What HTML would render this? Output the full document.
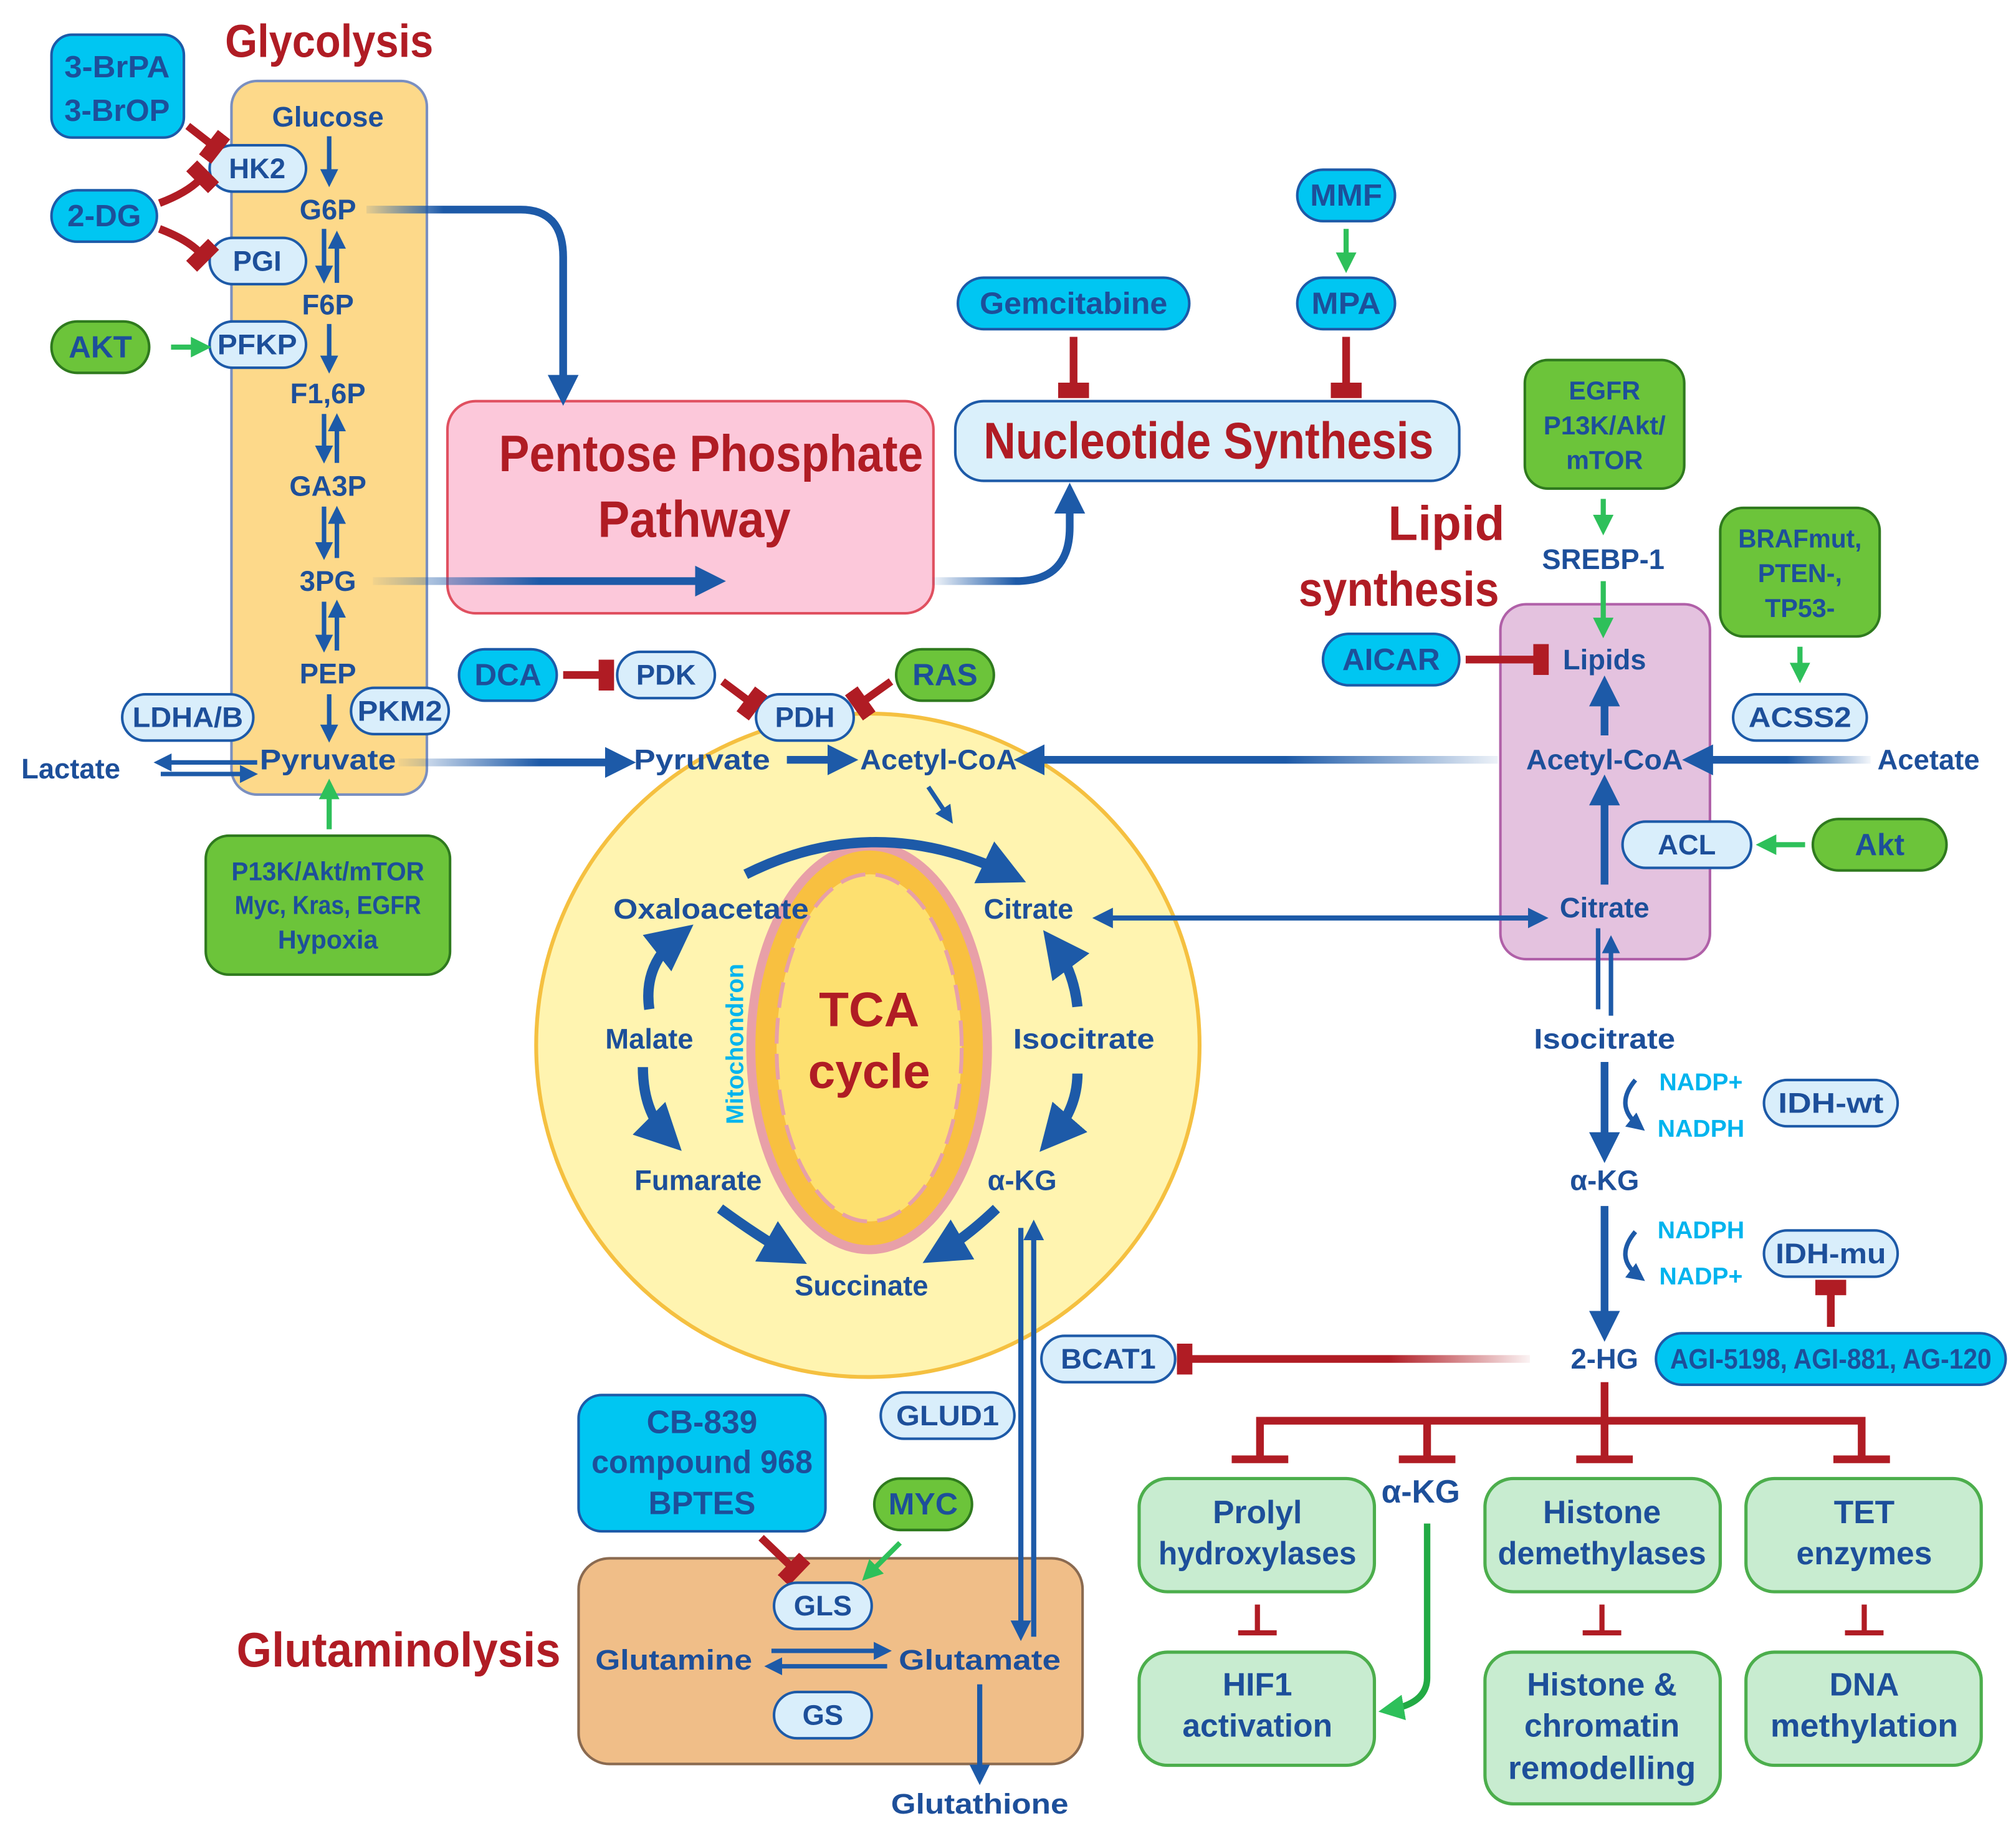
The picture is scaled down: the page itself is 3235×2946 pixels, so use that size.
<!DOCTYPE html>
<html><head><meta charset="utf-8">
<style>
html,body{margin:0;padding:0;background:#fff;}
svg{display:block;}
text{font-family:"Liberation Sans Narrow","Liberation Sans",sans-serif;font-weight:bold;text-anchor:middle;dominant-baseline:central;}
.m{fill:#1d4f9a;font-size:22px;}
.t{fill:#b01c24;}
.pill{fill:#d9eefb;stroke:#1d5aa8;stroke-width:2;}
.cy{fill:#00c6f2;stroke:#1d5aa8;stroke-width:2;}
.gr{fill:#6cc43a;stroke:#2f7a1e;stroke-width:2;}
.lg{fill:#c8ecd0;stroke:#4cae4c;stroke-width:2.5;}
.b{stroke:#1d5aa8;stroke-width:6;fill:none;}
.bt{stroke:#1d5aa8;stroke-width:3.5;fill:none;}
.r{stroke:#b01c24;stroke-width:6;fill:none;}
.g{stroke:#2ec05a;stroke-width:4;fill:none;}
.n{fill:#00b4ee;font-size:19px;}
</style></head><body>
<svg width="3235" height="2946" viewBox="0 0 1568 1428" xmlns="http://www.w3.org/2000/svg">
<defs>
<marker id="ab" viewBox="0 0 10 10" refX="6" refY="5" markerWidth="4" markerHeight="4" orient="auto-start-reverse"><path d="M0,0L10,5L0,10z" fill="#1d5aa8"/></marker>
<marker id="abs" viewBox="0 0 10 10" refX="6" refY="5" markerWidth="4.5" markerHeight="4.5" orient="auto"><path d="M0,0L10,5L0,10z" fill="#1d5aa8"/></marker>
<marker id="ag" viewBox="0 0 10 10" refX="6" refY="5" markerWidth="4" markerHeight="4" orient="auto"><path d="M0,0L10,5L0,10z" fill="#2ec05a"/></marker>
<marker id="tr" viewBox="0 0 10 10" refX="5" refY="5" markerWidth="4" markerHeight="4" orient="auto"><path d="M4,-1L9,-1L9,11L4,11z" fill="#b01c24"/></marker>
<linearGradient id="g1" gradientUnits="userSpaceOnUse" x1="285" y1="0" x2="345" y2="0"><stop offset="0" stop-color="#1d5aa8" stop-opacity="0.1"/><stop offset="1" stop-color="#1d5aa8"/></linearGradient>
<linearGradient id="g2" gradientUnits="userSpaceOnUse" x1="290" y1="0" x2="420" y2="0"><stop offset="0" stop-color="#1d5aa8" stop-opacity="0.05"/><stop offset="1" stop-color="#1d5aa8"/></linearGradient>
<linearGradient id="g3" gradientUnits="userSpaceOnUse" x1="725" y1="0" x2="790" y2="0"><stop offset="0" stop-color="#1d5aa8" stop-opacity="0.05"/><stop offset="1" stop-color="#1d5aa8"/></linearGradient>
<linearGradient id="g4" gradientUnits="userSpaceOnUse" x1="310" y1="0" x2="420" y2="0"><stop offset="0" stop-color="#1d5aa8" stop-opacity="0.05"/><stop offset="1" stop-color="#1d5aa8"/></linearGradient>
<linearGradient id="g5" gradientUnits="userSpaceOnUse" x1="1455" y1="0" x2="1390" y2="0"><stop offset="0" stop-color="#1d5aa8" stop-opacity="0.05"/><stop offset="1" stop-color="#1d5aa8"/></linearGradient>
<linearGradient id="g6" gradientUnits="userSpaceOnUse" x1="1170" y1="0" x2="1000" y2="0"><stop offset="0" stop-color="#1d5aa8" stop-opacity="0.05"/><stop offset="1" stop-color="#1d5aa8"/></linearGradient>
<linearGradient id="g7" gradientUnits="userSpaceOnUse" x1="1190" y1="0" x2="1080" y2="0"><stop offset="0" stop-color="#b01c24" stop-opacity="0.05"/><stop offset="1" stop-color="#b01c24"/></linearGradient>
</defs>

<!-- TCA circle first -->
<circle cx="675" cy="813" r="258" fill="#fff4b0" stroke="#f5c040" stroke-width="3"/>

<!-- Glycolysis -->
<text x="256" y="32" class="t" style="font-size:36px" textLength="162" lengthAdjust="spacingAndGlyphs">Glycolysis</text>
<rect x="180" y="63" width="152" height="555" rx="20" fill="#fdd98a" stroke="#7a8fc0" stroke-width="2"/>
<text x="255" y="91" class="m">Glucose</text>
<text x="255" y="163" class="m">G6P</text>
<text x="255" y="237" class="m">F6P</text>
<text x="255" y="306" class="m">F1,6P</text>
<text x="255" y="378" class="m">GA3P</text>
<text x="255" y="452" class="m">3PG</text>
<text x="255" y="524" class="m">PEP</text>
<text x="255" y="591" class="m" textLength="106" lengthAdjust="spacingAndGlyphs">Pyruvate</text>
<g class="bt">
<path d="M256,106V140" marker-end="url(#ab)"/>
<path d="M252,178V215" marker-end="url(#ab)"/><path d="M262,220V185" marker-end="url(#ab)"/>
<path d="M256,252V285" marker-end="url(#ab)"/>
<path d="M252,322V355" marker-end="url(#ab)"/><path d="M262,360V327" marker-end="url(#ab)"/>
<path d="M252,394V430" marker-end="url(#ab)"/><path d="M262,434V399" marker-end="url(#ab)"/>
<path d="M252,468V502" marker-end="url(#ab)"/><path d="M262,506V472" marker-end="url(#ab)"/>
<path d="M256,540V572" marker-end="url(#ab)"/>
<path d="M200,593H125" marker-end="url(#ab)"/><path d="M125,602H195" marker-end="url(#ab)"/>
</g>
<rect x="163" y="113" width="75" height="36" rx="18" class="pill"/><text x="200" y="131" class="m">HK2</text>
<rect x="163" y="185" width="75" height="36" rx="18" class="pill"/><text x="200" y="203" class="m">PGI</text>
<rect x="163" y="250" width="75" height="36" rx="18" class="pill"/><text x="200" y="268" class="m" textLength="62" lengthAdjust="spacingAndGlyphs">PFKP</text>
<rect x="95" y="540" width="102" height="36" rx="18" class="pill"/><text x="146" y="558" class="m" textLength="86" lengthAdjust="spacingAndGlyphs">LDHA/B</text>
<rect x="273" y="535" width="76" height="36" rx="18" class="pill"/><text x="311" y="553" class="m" textLength="66" lengthAdjust="spacingAndGlyphs">PKM2</text>
<text x="55" y="598" class="m">Lactate</text>
<rect x="40" y="27" width="103" height="80" rx="16" class="cy"/><text x="91" y="52" class="m" style="font-size:24px" textLength="82" lengthAdjust="spacingAndGlyphs">3-BrPA</text><text x="91" y="86" class="m" style="font-size:24px" textLength="82" lengthAdjust="spacingAndGlyphs">3-BrOP</text>
<rect x="40" y="148" width="82" height="40" rx="20" class="cy"/><text x="81" y="168" class="m" style="font-size:24px">2-DG</text>
<rect x="40" y="250" width="76" height="40" rx="20" class="gr"/><text x="78" y="270" class="m" style="font-size:24px">AKT</text>
<path d="M146,98L164,112" class="r" marker-end="url(#tr)"/>
<path d="M124,158Q145,150 155,140" class="r" marker-end="url(#tr)"/>
<path d="M124,178Q145,186 155,196" class="r" marker-end="url(#tr)"/>
<path d="M133,270H158" class="g" marker-end="url(#ag)"/>
<rect x="160" y="650" width="190" height="108" rx="18" class="gr"/>
<text x="255" y="678" class="m" style="font-size:20px" textLength="150" lengthAdjust="spacingAndGlyphs">P13K/Akt/mTOR</text>
<text x="255" y="704" class="m" style="font-size:20px" textLength="145" lengthAdjust="spacingAndGlyphs">Myc, Kras, EGFR</text>
<text x="255" y="731" class="m" style="font-size:20px">Hypoxia</text>
<path d="M256,645V612" class="g" marker-end="url(#ag)"/>

<!-- PPP -->
<rect x="348" y="312" width="378" height="165" rx="22" fill="#fcc8da" stroke="#e05060" stroke-width="2"/>
<text x="553" y="353" class="t" style="font-size:40px" textLength="330" lengthAdjust="spacingAndGlyphs">Pentose Phosphate</text>
<text x="540" y="404" class="t" style="font-size:40px" textLength="150" lengthAdjust="spacingAndGlyphs">Pathway</text>
<path d="M285,163H405Q438,163 438,200V306" class="b" style="stroke:url(#g1)" marker-end="url(#ab)"/>
<path d="M290,452H555" class="b" style="stroke:url(#g2)" marker-end="url(#ab)"/>
<path d="M725,452H790Q832,452 832,410V385" class="b" style="stroke:url(#g3)" marker-end="url(#ab)"/>

<!-- Nucleotide -->
<rect x="743" y="312" width="392" height="62" rx="22" fill="#daf0fb" stroke="#1d5aa8" stroke-width="2"/>
<text x="940" y="343" class="t" style="font-size:40px" textLength="350" lengthAdjust="spacingAndGlyphs">Nucleotide Synthesis</text>
<rect x="745" y="216" width="180" height="40" rx="20" class="cy"/><text x="835" y="236" class="m" style="font-size:24px" textLength="146" lengthAdjust="spacingAndGlyphs">Gemcitabine</text>
<rect x="1009" y="132" width="76" height="40" rx="20" class="cy"/><text x="1047" y="152" class="m" style="font-size:24px" textLength="56" lengthAdjust="spacingAndGlyphs">MMF</text>
<rect x="1009" y="216" width="76" height="40" rx="20" class="cy"/><text x="1047" y="236" class="m" style="font-size:24px" textLength="54" lengthAdjust="spacingAndGlyphs">MPA</text>
<path d="M835,262V300" class="r" marker-end="url(#tr)"/>
<path d="M1047,262V300" class="r" marker-end="url(#tr)"/>
<path d="M1047,178V206" class="g" marker-end="url(#ag)"/>

<!-- Lipid -->
<text x="1125" y="407" class="t" style="font-size:38px">Lipid</text>
<text x="1088" y="458" class="t" style="font-size:38px" textLength="156" lengthAdjust="spacingAndGlyphs">synthesis</text>
<rect x="1186" y="280" width="124" height="100" rx="18" class="gr"/>
<text x="1248" y="304" class="m" style="font-size:20px">EGFR</text><text x="1248" y="331" class="m" style="font-size:20px" textLength="95" lengthAdjust="spacingAndGlyphs">P13K/Akt/</text><text x="1248" y="358" class="m" style="font-size:20px">mTOR</text>
<path d="M1247,388V410" class="g" marker-end="url(#ag)"/>
<text x="1247" y="435" class="m">SREBP-1</text>
<rect x="1338" y="395" width="124" height="100" rx="18" class="gr"/>
<text x="1400" y="419" class="m" style="font-size:20px" textLength="96" lengthAdjust="spacingAndGlyphs">BRAFmut,</text><text x="1400" y="446" class="m" style="font-size:20px">PTEN-,</text><text x="1400" y="473" class="m" style="font-size:20px">TP53-</text>
<rect x="1167" y="470" width="163" height="276" rx="20" fill="#e4c2df" stroke="#b060a8" stroke-width="2"/>
<path d="M1247,452V490" class="g" marker-end="url(#ag)"/>
<path d="M1400,503V525" class="g" marker-end="url(#ag)"/>
<rect x="1029" y="493" width="106" height="40" rx="20" class="cy"/><text x="1082" y="513" class="m" style="font-size:24px" textLength="76" lengthAdjust="spacingAndGlyphs">AICAR</text>
<path d="M1140,513H1195" class="r" marker-end="url(#tr)"/>
<text x="1248" y="513" class="m">Lipids</text>
<rect x="1348" y="540" width="104" height="36" rx="18" class="pill"/><text x="1400" y="558" class="m" textLength="80" lengthAdjust="spacingAndGlyphs">ACSS2</text>
<text x="1248" y="591" class="m" textLength="122" lengthAdjust="spacingAndGlyphs">Acetyl-CoA</text>
<text x="1500" y="591" class="m">Acetate</text>
<path d="M1248,572V535" class="b" marker-end="url(#ab)"/>
<path d="M1455,591H1318" class="b" style="stroke:url(#g5)" marker-end="url(#ab)"/>
<path d="M1248,688V612" class="b" marker-end="url(#ab)"/>
<rect x="1262" y="639" width="100" height="36" rx="18" class="pill"/><text x="1312" y="657" class="m">ACL</text>
<rect x="1410" y="637" width="104" height="40" rx="20" class="gr"/><text x="1462" y="657" class="m" style="font-size:24px">Akt</text>
<path d="M1404,657H1372" class="g" marker-end="url(#ag)"/>
<text x="1248" y="706" class="m">Citrate</text>
<path d="M1165,591H798" class="b" style="stroke:url(#g6)" marker-end="url(#ab)"/>

<!-- PDH etc -->
<rect x="357" y="505" width="76" height="40" rx="20" class="cy"/><text x="395" y="525" class="m" style="font-size:24px">DCA</text>
<rect x="480" y="507" width="76" height="36" rx="18" class="pill"/><text x="518" y="525" class="m">PDK</text>
<rect x="588" y="540" width="76" height="36" rx="18" class="pill"/><text x="626" y="558" class="m">PDH</text>
<rect x="697" y="505" width="76" height="40" rx="20" class="gr"/><text x="735" y="525" class="m" style="font-size:24px">RAS</text>
<path d="M438,525H468" class="r" marker-end="url(#tr)"/>
<path d="M562,530L582,545" class="r" marker-end="url(#tr)"/>
<path d="M693,530L672,545" class="r" marker-end="url(#tr)"/>
<path d="M310,593H485" class="b" style="stroke:url(#g4)" marker-end="url(#ab)"/>
<text x="546" y="591" class="m" textLength="106" lengthAdjust="spacingAndGlyphs">Pyruvate</text>
<path d="M612,591H658" class="b" marker-end="url(#ab)"/>
<text x="730" y="591" class="m" textLength="122" lengthAdjust="spacingAndGlyphs">Acetyl-CoA</text>

<!-- TCA -->
<ellipse cx="676" cy="815" rx="92" ry="157" fill="#f8c040" stroke="#e8a0a8" stroke-width="7"/>
<ellipse cx="676" cy="815" rx="72" ry="135" fill="#fde070" stroke="#e7a0a8" stroke-width="3" stroke-dasharray="20 8"/>
<text x="676" y="785" class="t" style="font-size:38px">TCA</text>
<text x="676" y="833" class="t" style="font-size:38px">cycle</text>
<text x="572" y="812" class="n" transform="rotate(-90 572 812)" textLength="125" lengthAdjust="spacingAndGlyphs">Mitochondron</text>
<text x="553" y="707" class="m" textLength="152" lengthAdjust="spacingAndGlyphs">Oxaloacetate</text>
<text x="800" y="707" class="m">Citrate</text>
<text x="505" y="808" class="m">Malate</text>
<text x="843" y="808" class="m" textLength="110" lengthAdjust="spacingAndGlyphs">Isocitrate</text>
<text x="543" y="918" class="m">Fumarate</text>
<text x="795" y="918" class="m">α-KG</text>
<text x="670" y="1000" class="m">Succinate</text>
<g class="b" style="stroke-width:8">
<path d="M580,680Q680,630 785,680" marker-end="url(#abs)"/>
<path d="M838,783Q835,755 820,735" marker-end="url(#abs)"/>
<path d="M838,835Q838,862 818,885" marker-end="url(#abs)"/>
<path d="M505,785Q500,750 528,728" marker-end="url(#abs)"/>
<path d="M500,830Q500,865 520,885" marker-end="url(#abs)"/>
<path d="M560,940Q590,962 615,976" marker-end="url(#abs)"/>
<path d="M775,940Q752,962 730,975" marker-end="url(#abs)"/>
</g>
<path d="M722,612L738,636" class="bt" marker-end="url(#ab)"/>
<path d="M856,714H1198" class="bt" style="stroke-width:4" marker-start="url(#ab)" marker-end="url(#ab)"/>

<!-- IDH column -->
<path d="M1243,722V785M1253,790V733" class="bt" marker-end="url(#ab)"/>
<text x="1248" y="808" class="m" textLength="110" lengthAdjust="spacingAndGlyphs">Isocitrate</text>
<path d="M1248,826V895" class="b" marker-end="url(#ab)"/>
<path d="M1272,840Q1255,860 1275,876" class="bt" marker-end="url(#ab)"/>
<text x="1323" y="842" class="n">NADP+</text><text x="1323" y="878" class="n">NADPH</text>
<rect x="1372" y="840" width="104" height="36" rx="18" class="pill"/><text x="1424" y="858" class="m" textLength="82" lengthAdjust="spacingAndGlyphs">IDH-wt</text>
<text x="1248" y="918" class="m">α-KG</text>
<path d="M1248,938V1034" class="b" marker-end="url(#ab)"/>
<path d="M1272,958Q1255,978 1275,993" class="bt" marker-end="url(#ab)"/>
<text x="1323" y="957" class="n">NADPH</text><text x="1323" y="993" class="n">NADP+</text>
<rect x="1372" y="957" width="104" height="36" rx="18" class="pill"/><text x="1424" y="975" class="m" textLength="86" lengthAdjust="spacingAndGlyphs">IDH-mu</text>
<path d="M1424,1032V1005" class="r" marker-end="url(#tr)"/>
<rect x="1288" y="1037" width="272" height="40" rx="20" class="cy"/><text x="1424" y="1057" class="m" textLength="250" lengthAdjust="spacingAndGlyphs">AGI-5198, AGI-881, AG-120</text>
<text x="1248" y="1057" class="m">2-HG</text>
<rect x="810" y="1039" width="104" height="36" rx="18" class="pill"/><text x="862" y="1057" class="m" textLength="74" lengthAdjust="spacingAndGlyphs">BCAT1</text>
<path d="M1190,1057H925" class="r" style="stroke:url(#g7)" marker-end="url(#tr)"/>

<!-- 2-HG tree -->
<g class="r">
<path d="M1248,1075V1135"/>
<path d="M980,1135V1105H1448V1135"/>
<path d="M1110,1105V1135"/>
<path d="M958,1135H1002M1088,1135H1132M1226,1135H1270M1426,1135H1470"/>
</g>
<rect x="886" y="1150" width="183" height="88" rx="22" class="lg"/><text x="978" y="1176" class="m" style="font-size:25px">Prolyl</text><text x="978" y="1208" class="m" style="font-size:25px" textLength="154" lengthAdjust="spacingAndGlyphs">hydroxylases</text>
<text x="1105" y="1160" class="m" style="font-size:25px">α-KG</text>
<rect x="1155" y="1150" width="183" height="88" rx="22" class="lg"/><text x="1246" y="1176" class="m" style="font-size:25px">Histone</text><text x="1246" y="1208" class="m" style="font-size:25px" textLength="162" lengthAdjust="spacingAndGlyphs">demethylases</text>
<rect x="1358" y="1150" width="183" height="88" rx="22" class="lg"/><text x="1450" y="1176" class="m" style="font-size:25px">TET</text><text x="1450" y="1208" class="m" style="font-size:25px">enzymes</text>
<g class="r" style="stroke-width:4"><path d="M978,1248V1270M963,1270H993M1246,1248V1270M1231,1270H1261M1450,1248V1270M1435,1270H1465"/></g>
<rect x="886" y="1285" width="183" height="88" rx="22" class="lg"/><text x="978" y="1310" class="m" style="font-size:25px">HIF1</text><text x="978" y="1342" class="m" style="font-size:25px">activation</text>
<rect x="1155" y="1285" width="183" height="118" rx="22" class="lg"/><text x="1246" y="1310" class="m" style="font-size:25px">Histone &amp;</text><text x="1246" y="1342" class="m" style="font-size:25px">chromatin</text><text x="1246" y="1375" class="m" style="font-size:25px" textLength="146" lengthAdjust="spacingAndGlyphs">remodelling</text>
<rect x="1358" y="1285" width="183" height="88" rx="22" class="lg"/><text x="1450" y="1310" class="m" style="font-size:25px">DNA</text><text x="1450" y="1342" class="m" style="font-size:25px" textLength="146" lengthAdjust="spacingAndGlyphs">methylation</text>
<path d="M1110,1185V1305Q1110,1325 1080,1330" class="g" style="stroke-width:5;stroke:#22aa44" marker-end="url(#ag)"/>

<!-- Glutaminolysis -->
<rect x="685" y="1083" width="104" height="36" rx="18" class="pill"/><text x="737" y="1101" class="m" textLength="80" lengthAdjust="spacingAndGlyphs">GLUD1</text>
<rect x="450" y="1085" width="192" height="106" rx="18" class="cy"/>
<text x="546" y="1106" class="m" style="font-size:25px">CB-839</text><text x="546" y="1137" class="m" style="font-size:25px" textLength="172" lengthAdjust="spacingAndGlyphs">compound 968</text><text x="546" y="1169" class="m" style="font-size:25px">BPTES</text>
<rect x="680" y="1150" width="76" height="40" rx="20" class="gr"/><text x="718" y="1170" class="m" style="font-size:24px" textLength="54" lengthAdjust="spacingAndGlyphs">MYC</text>
<text x="310" y="1283" class="t" style="font-size:38px" textLength="252" lengthAdjust="spacingAndGlyphs">Glutaminolysis</text>
<rect x="450" y="1212" width="392" height="160" rx="24" fill="#f0be88" stroke="#8a6a50" stroke-width="2"/>
<path d="M592,1196L615,1218" class="r" marker-end="url(#tr)"/>
<path d="M700,1200L675,1225" class="g" marker-end="url(#ag)"/>
<rect x="602" y="1231" width="76" height="36" rx="18" class="pill"/><text x="640" y="1249" class="m">GLS</text>
<rect x="602" y="1316" width="76" height="36" rx="18" class="pill"/><text x="640" y="1334" class="m">GS</text>
<text x="524" y="1291" class="m" textLength="122" lengthAdjust="spacingAndGlyphs">Glutamine</text>
<text x="762" y="1291" class="m" textLength="126" lengthAdjust="spacingAndGlyphs">Glutamate</text>
<path d="M600,1284H688" class="bt" marker-end="url(#ab)"/>
<path d="M690,1296H600" class="bt" marker-end="url(#ab)"/>
<path d="M804,1273V955" class="bt" style="stroke-width:4" marker-end="url(#ab)"/>
<path d="M794,955V1270" class="bt" style="stroke-width:4" marker-end="url(#ab)"/>
<path d="M762,1310V1382" class="bt" style="stroke-width:4" marker-end="url(#ab)"/>
<text x="762" y="1403" class="m" textLength="138" lengthAdjust="spacingAndGlyphs">Glutathione</text>
</svg>
</body></html>
